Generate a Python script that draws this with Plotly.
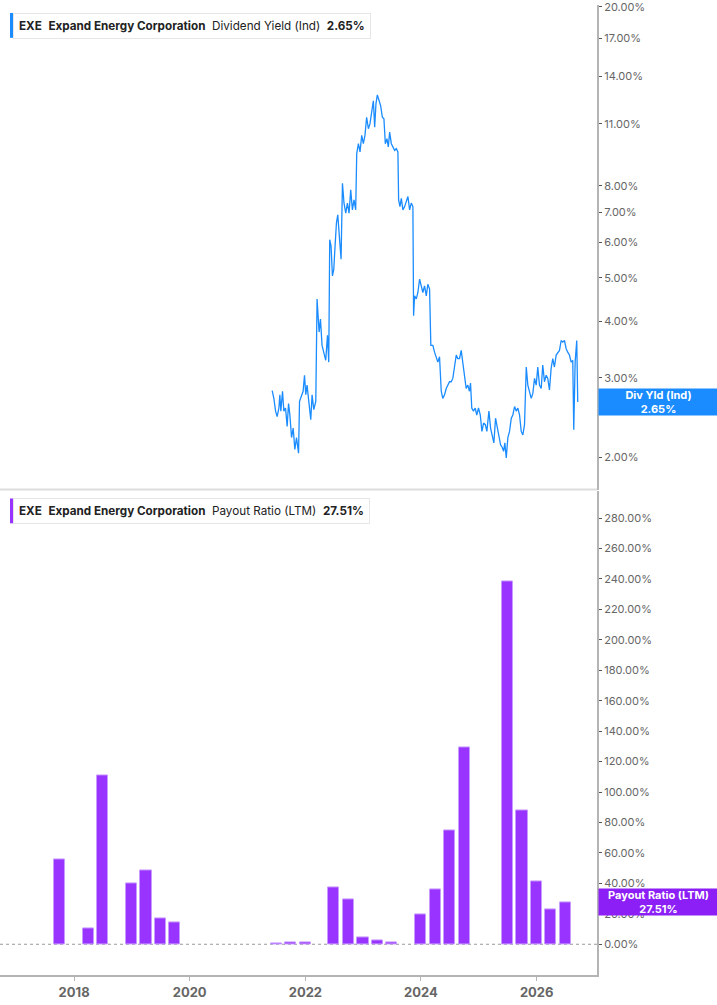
import numpy as np
import pandas as pd
import plotly.graph_objs as go

# 股息率 (Ind) - 日期用小数年份表示
div_years = [
    2021.425, 2021.454, 2021.484, 2021.511, 2021.541, 2021.558, 2021.575, 2021.604, 2021.627, 2021.656,
    2021.684, 2021.708, 2021.731, 2021.760, 2021.788, 2021.817, 2021.846, 2021.881, 2021.898, 2021.933,
    2021.960, 2021.984, 2022.007, 2022.029, 2022.059, 2022.093, 2022.116, 2022.145, 2022.180, 2022.202,
    2022.237, 2022.261, 2022.288, 2022.318, 2022.352, 2022.382, 2022.404, 2022.421, 2022.444, 2022.468,
    2022.491, 2022.513, 2022.537, 2022.560, 2022.582, 2022.617, 2022.641, 2022.668, 2022.698, 2022.727,
    2022.755, 2022.784, 2022.813, 2022.841, 2022.870, 2022.888, 2022.917, 2022.945, 2022.974, 2023.003,
    2023.031, 2023.060, 2023.090, 2023.117, 2023.147, 2023.176, 2023.199, 2023.221, 2023.245, 2023.273,
    2023.302, 2023.332, 2023.359, 2023.383, 2023.411, 2023.435, 2023.458, 2023.487, 2023.515, 2023.544,
    2023.573, 2023.601, 2023.613, 2023.636, 2023.660, 2023.687, 2023.717, 2023.746, 2023.774, 2023.803,
    2023.832, 2023.860, 2023.872, 2023.889, 2023.919, 2023.946, 2023.976, 2024.005, 2024.033, 2024.062,
    2024.092, 2024.119, 2024.149, 2024.171, 2024.206, 2024.235, 2024.264, 2024.292, 2024.321, 2024.351,
    2024.378, 2024.408, 2024.437, 2024.465, 2024.494, 2024.523, 2024.551, 2024.580, 2024.610, 2024.637,
    2024.667, 2024.696, 2024.724, 2024.753, 2024.782, 2024.810, 2024.839, 2024.857, 2024.879, 2024.908,
    2024.938, 2024.965, 2024.995, 2025.024, 2025.052, 2025.081, 2025.111, 2025.138, 2025.173, 2025.202,
    2025.231, 2025.259, 2025.288, 2025.318, 2025.345, 2025.375, 2025.404, 2025.427, 2025.449, 2025.473,
    2025.501, 2025.530, 2025.560, 2025.587, 2025.617, 2025.646, 2025.674, 2025.703, 2025.732, 2025.760,
    2025.789, 2025.819, 2025.846, 2025.876, 2025.905, 2025.933, 2025.962, 2025.991, 2026.019, 2026.048,
    2026.078, 2026.105, 2026.135, 2026.164, 2026.192, 2026.221, 2026.250, 2026.278, 2026.307, 2026.337,
    2026.364, 2026.394, 2026.423, 2026.451, 2026.480, 2026.510, 2026.537, 2026.566, 2026.596, 2026.624,
    2026.641, 2026.665, 2026.693, 2026.710,
]
div_yield = [
    2.81, 2.70, 2.53, 2.46, 2.57, 2.75, 2.53, 2.80, 2.53, 2.57,
    2.34, 2.63, 2.48, 2.21, 2.32, 2.08, 2.21, 2.04, 2.66, 2.75,
    2.80, 3.04, 2.75, 2.89, 2.66, 2.42, 2.75, 2.55, 2.66, 4.49,
    3.79, 4.05, 3.54, 3.42, 3.28, 3.73, 3.25, 6.08, 5.88, 5.05,
    5.22, 5.88, 6.62, 6.90, 6.19, 5.50, 8.11, 7.33, 6.96, 7.33,
    6.96, 7.84, 7.08, 7.45, 7.08, 9.44, 9.93, 9.52, 10.36, 9.93,
    10.36, 11.37, 10.72, 10.99, 11.67, 12.37, 10.81, 12.17, 12.75, 12.37,
    12.06, 11.37, 11.28, 9.93, 10.19, 9.77, 10.54, 9.93, 9.77, 9.60,
    9.68, 9.52, 7.45, 7.20, 7.51, 7.08, 7.20, 7.45, 7.58, 7.08,
    7.33, 7.20, 4.12, 4.56, 4.49, 4.64, 4.97, 4.80, 4.64, 4.80,
    4.56, 4.84, 4.72, 3.54, 3.54, 3.42, 3.31, 3.25, 3.34, 2.80,
    2.70, 2.75, 2.84, 2.89, 2.94, 2.94, 2.99, 3.17, 3.37, 3.31,
    3.31, 3.45, 3.25, 2.99, 2.84, 2.89, 2.80, 2.92, 2.57, 2.53,
    2.57, 2.48, 2.57, 2.48, 2.28, 2.38, 2.36, 2.28, 2.53, 2.32,
    2.24, 2.15, 2.44, 2.32, 2.24, 2.13, 2.10, 2.06, 2.15, 1.99,
    2.21, 2.28, 2.44, 2.48, 2.59, 2.53, 2.57, 2.48, 2.28, 2.24,
    2.36, 3.17, 2.89, 2.80, 2.70, 2.77, 2.99, 2.89, 3.17, 2.89,
    2.84, 3.20, 2.94, 3.04, 2.99, 2.82, 3.15, 3.31, 3.17, 3.37,
    3.42, 3.45, 3.63, 3.60, 3.63, 3.48, 3.42, 3.37, 3.25, 3.28,
    2.30, 3.25, 3.63, 2.65,
]

# 派息率 (LTM) - 季度
payout_dates = [
    "2017-09-30", "2018-03-31", "2018-06-30", "2018-12-31", "2019-03-31", "2019-06-30",
    "2019-09-30", "2021-06-30", "2021-09-30", "2021-12-31", "2022-06-30", "2022-09-30",
    "2022-12-31", "2023-03-31", "2023-06-30", "2023-12-31", "2024-03-31", "2024-06-30",
    "2024-09-30", "2025-06-30", "2025-09-30", "2025-12-31", "2026-03-31", "2026-06-30",
]
payout_ratio = [
    56.0, 10.6, 110.7, 40.2, 48.8, 16.7,
    14.3, 0.6, 1.1, 1.3, 37.5, 29.7,
    4.5, 2.6, 0.9, 19.5, 36.2, 74.7,
    129.4, 238.5, 87.7, 41.5, 23.2, 27.51,
]

yield_ticks = [2, 3, 4, 5, 6, 7, 8, 11, 14, 17, 20]
payout_ticks = list(range(0, 300, 20))
year_ticks = ["2018-01-01", "2020-01-01", "2022-01-01", "2024-01-01", "2026-01-01"]
year_labels = ["2018", "2020", "2022", "2024", "2026"]


def year_to_date(y):
    base = pd.Timestamp(int(y), 1, 1)
    return base + pd.Timedelta(days=(y - int(y)) * 365.25)


div_dates = [year_to_date(y) for y in div_years]

BLUE = '#1a8cff'
PURPLE = '#9933ff'
FONT = 'Inter'
AXIS_GRAY = '#b4b4b4'

trace_yield = go.Scatter(
    x=div_dates, y=div_yield, mode='lines',
    line=dict(color=BLUE, width=1.3),
    xaxis='x', yaxis='y', showlegend=False,
)

trace_payout = go.Bar(
    x=pd.to_datetime(payout_dates), y=payout_ratio,
    width=70 * 24 * 3600 * 1000,
    marker=dict(color=PURPLE, line=dict(color='#c89bff', width=1)),
    xaxis='x2', yaxis='y2', showlegend=False,
)

x_range = ["2016-09-20", "2027-01-17"]
split = 488 / 975

layout = go.Layout(
    width=717, height=1005,
    margin=dict(l=0, r=120, t=0, b=30),
    plot_bgcolor='white', paper_bgcolor='white',
    template='plotly_white',
    font=dict(family=FONT, color='#666666', size=11),
    bargap=0,
    xaxis=dict(
        domain=[0, 1], anchor='y', range=x_range, type='date',
        showticklabels=False, showgrid=False, zeroline=False, showline=False, ticks='',
    ),
    yaxis=dict(
        domain=[split, 1], anchor='x', side='right', type='log',
        range=[0.229, 1.305],
        tickvals=yield_ticks, ticktext=[f'{v:.2f}%' for v in yield_ticks],
        ticklabeloverflow='allow',
        showgrid=False, zeroline=False,
        showline=True, linecolor=AXIS_GRAY, linewidth=2,
        ticks='outside', ticklen=3, tickcolor='#555555', tickwidth=1,
        tickfont=dict(size=11, color='#666666'),
    ),
    xaxis2=dict(
        domain=[0, 1], anchor='y2', range=x_range, type='date',
        tickvals=year_ticks, ticktext=year_labels,
        showgrid=False, zeroline=False,
        showline=True, linecolor=AXIS_GRAY, linewidth=2,
        ticks='outside', ticklen=4, tickcolor=AXIS_GRAY,
        tickfont=dict(size=13, color='#666666', family=FONT, weight='bold'),
    ),
    yaxis2=dict(
        domain=[0, split - 0.002], anchor='x2', side='right',
        range=[-20.2, 297.5],
        tickvals=payout_ticks, ticktext=[f'{v:.2f}%' for v in payout_ticks],
        showgrid=False, zeroline=False,
        showline=True, linecolor=AXIS_GRAY, linewidth=2,
        ticks='outside', ticklen=3, tickcolor='#555555', tickwidth=1,
        tickfont=dict(size=11, color='#666666'),
    ),
    shapes=[
        # 上下面板分隔线
        dict(type='line', xref='paper', yref='paper', x0=0, x1=1, y0=split, y1=split,
             line=dict(color='#dddddd', width=2)),
        # 0% 虚线
        dict(type='line', xref='paper', yref='y2', x0=0, x1=1, y0=0, y1=0,
             line=dict(color='#999999', width=1, dash='dot'), layer='below'),
        # 图例色条
        dict(type='rect', xref='paper', yref='paper',
             x0=10 / 597.7, x1=13.5 / 597.7, y0=(975 - 33) / 975, y1=(975 - 8) / 975,
             line=dict(width=0), fillcolor=BLUE),
        dict(type='rect', xref='paper', yref='paper',
             x0=10 / 597.7, x1=13.5 / 597.7, y0=(975 - 521) / 975, y1=(975 - 496) / 975,
             line=dict(width=0), fillcolor=PURPLE),
    ],
    annotations=[
        dict(xref='paper', yref='paper', x=13 / 597.7, y=(975 - 8) / 975,
             xanchor='left', yanchor='top', showarrow=False, align='left',
             text='<b>EXE</b>  <b>Expand Energy Corporation</b>  Dividend Yield (Ind)  <b>2.65%</b>',
             font=dict(family=FONT, size=11.7, color='#222222'),
             bgcolor='white', bordercolor='#e6e6e6', borderwidth=1, borderpad=5),
        dict(xref='paper', yref='paper', x=13 / 597.7, y=(975 - 496) / 975,
             xanchor='left', yanchor='top', showarrow=False, align='left',
             text='<b>EXE</b>  <b>Expand Energy Corporation</b>  Payout Ratio (LTM)  <b>27.51%</b>',
             font=dict(family=FONT, size=11.7, color='#222222'),
             bgcolor='white', bordercolor='#e6e6e6', borderwidth=1, borderpad=5),
        # 右侧数值标签
        dict(xref='paper', yref='y', x=1.002, y=np.log10(2.65),
             xanchor='left', yanchor='middle', showarrow=False, align='center',
             text='<b>Div Yld (Ind)<br>2.65%</b>', width=115, height=22,
             font=dict(family=FONT, size=11, color='white'),
             bgcolor=BLUE, borderpad=2),
        dict(xref='paper', yref='y2', x=1.002, y=27.51,
             xanchor='left', yanchor='middle', showarrow=False, align='center',
             text='<b>Payout Ratio (LTM)<br>27.51%</b>', width=115, height=22,
             font=dict(family=FONT, size=11, color='white'),
             bgcolor='#8c1ff5', borderpad=2),
    ],
)

fig = go.Figure(data=[trace_yield, trace_payout], layout=layout)
fig.write_html("out.html", config={'displayModeBar': False},
               post_script="document.body.style.margin='0';")
